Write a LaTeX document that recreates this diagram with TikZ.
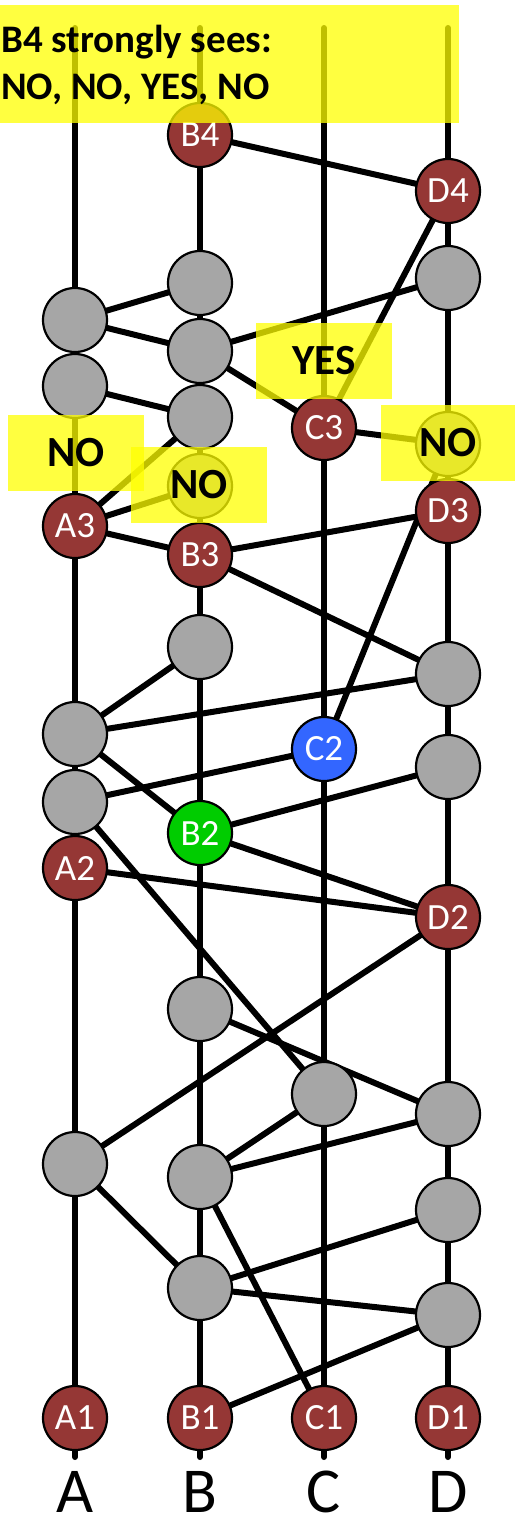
\documentclass[tikz,border=0pt]{standalone}
\usepackage{fontspec}
\setmainfont{Carlito}
\usetikzlibrary{backgrounds}
\definecolor{evred}{HTML}{953735}
\definecolor{evgray}{HTML}{A6A6A6}
\definecolor{evgreen}{HTML}{00CC00}
\definecolor{evblue}{HTML}{3366FF}
\definecolor{hlyellow}{HTML}{FFFF00}
\begin{document}
\begin{tikzpicture}[x=1bp,y=-1bp,
  ev/.style={circle, draw=black, line width=2.2bp, minimum size=64bp, inner sep=0pt,
    font=\fontsize{37bp}{37bp}\selectfont, text=white},
  evr/.style={ev, fill=evred},
  evg/.style={ev, fill=evgray},
  evgreen/.style={ev, fill=evgreen},
  evblue/.style={ev, fill=evblue},
  link/.style={line width=6bp, draw=black},
  timeline/.style={line width=6bp, draw=black, line cap=round},
  hlbox/.style={fill=hlyellow, fill opacity=0.75, text opacity=1, draw=none, inner sep=0pt,
    font=\bfseries\fontsize{43bp}{43bp}\selectfont, text=black},
  colname/.style={font=\fontsize{64bp}{64bp}\selectfont, anchor=base, inner sep=0pt},
  titletext/.style={font=\bfseries\fontsize{39bp}{39bp}\selectfont, anchor=base west, inner sep=0pt}
]
\useasboundingbox (0,0) rectangle (515,1520);

% column end points
\coordinate (Atop) at (75,28);   \coordinate (Abot) at (75,1457);
\coordinate (Btop) at (200,28);  \coordinate (Bbot) at (200,1457);
\coordinate (Ctop) at (324,28);  \coordinate (Cbot) at (324,1457);
\coordinate (Dtop) at (448,28);  \coordinate (Dbot) at (448,1457);

% column A
\node[evg] (a1g) at (75,320) {};
\node[evg] (a2g) at (75,386) {};
\node[evr] (A3) at (75,526) {A3};
\node[evg] (a3g) at (75,734) {};
\node[evg] (a4g) at (75,802) {};
\node[evr] (A2) at (75,868) {A2};
\node[evg] (a5g) at (75,1164) {};
\node[evr] (A1) at (75,1418) {A1};
% column B
\node[evr] (B4) at (200,135) {B4};
\node[evg] (b1g) at (200,283) {};
\node[evg] (b2g) at (200,351) {};
\node[evg] (b3g) at (200,417) {};
\node[evg] (bno) at (200,486) {};
\node[evr] (B3) at (200,555) {B3};
\node[evg] (b4g) at (200,647) {};
\node[evgreen] (B2) at (200,833) {B2};
\node[evg] (b5g) at (200,1009) {};
\node[evg] (b6g) at (200,1177) {};
\node[evg] (b7g) at (200,1288) {};
\node[evr] (B1) at (200,1418) {B1};
% column C
\node[evr] (C3) at (324,428) {C3};
\node[evblue] (C2) at (324,749) {C2};
\node[evg] (c1g) at (324,1094) {};
\node[evr] (C1) at (324,1418) {C1};
% column D
\node[evr] (D4) at (448,191) {D4};
\node[evg] (d1g) at (448,278) {};
\node[evg] (dno) at (448,444) {};
\node[evr] (D3) at (448,511) {D3};
\node[evg] (d2g) at (448,674) {};
\node[evg] (d3g) at (448,767) {};
\node[evr] (D2) at (448,917) {D2};
\node[evg] (d4g) at (448,1114) {};
\node[evg] (d5g) at (448,1210) {};
\node[evg] (d6g) at (448,1315) {};
\node[evr] (D1) at (448,1418) {D1};

\begin{scope}[on background layer]
  \draw[timeline] (Atop) -- (Abot);
  \draw[timeline] (Btop) -- (Bbot);
  \draw[timeline] (Ctop) -- (Cbot);
  \draw[timeline] (Dtop) -- (Dbot);
  \draw[link] (B4.center) -- (D4.center);
  \draw[link] (D4.center) -- (C3.center);
  \draw[link] (a1g.center) -- (b1g.center);
  \draw[link] (a1g.center) -- (b2g.center);
  \draw[link] (b2g.center) -- (d1g.center);
  \draw[link] (b2g.center) -- (C3.center);
  \draw[link] (a2g.center) -- (b3g.center);
  \draw[link] (A3.center) -- (b3g.center);
  \draw[link] (A3.center) -- (bno.center);
  \draw[link] (C3.center) -- (dno.center);
  \draw[link] (A3.center) -- (B3.center);
  \draw[link] (B3.center) -- (D3.center);
  \draw[link] (B3.center) -- (d2g.center);
  \draw[link] (dno.center) -- (C2.center);
  \draw[link] (b4g.center) -- (a3g.center);
  \draw[link] (a3g.center) -- (d2g.center);
  \draw[link] (a3g.center) -- (B2.center);
  \draw[link] (a4g.center) -- (C2.center);
  \draw[link] (B2.center) -- (d3g.center);
  \draw[link] (B2.center) -- (D2.center);
  \draw[link] (A2.center) -- (D2.center);
  \draw[link] (a4g.center) -- (c1g.center);
  \draw[link] (D2.center) -- (a5g.center);
  \draw[link] (b5g.center) -- (d4g.center);
  \draw[link] (c1g.center) -- (b6g.center);
  \draw[link] (b6g.center) -- (d4g.center);
  \draw[link] (a5g.center) -- (b7g.center);
  \draw[link] (b6g.center) -- (C1.center);
  \draw[link] (b7g.center) -- (d5g.center);
  \draw[link] (b7g.center) -- (d6g.center);
  \draw[link] (d6g.center) -- (B1.center);
\end{scope}

% highlights
\node[hlbox, minimum width=459bp, minimum height=118bp, anchor=north west] (hltop) at (0,5) {};
\node[titletext] (title1) at (1,53) {B4 strongly sees:};
\node[titletext] (title2) at (1,100) {NO, NO, YES, NO};
\node[hlbox, minimum width=136bp, minimum height=76bp] (hlyes) at (324,361) {YES};
\node[hlbox, minimum width=136bp, minimum height=76bp] (hlnoa) at (76,453) {NO};
\node[hlbox, minimum width=136bp, minimum height=76bp] (hlnob) at (199,485) {NO};
\node[hlbox, minimum width=134bp, minimum height=76bp] (hlnod) at (448,443) {NO};

% column names
\node[colname] (lA) at (75,1512) {A};
\node[colname] (lB) at (200,1512) {B};
\node[colname] (lC) at (324,1512) {C};
\node[colname] (lD) at (448,1512) {D};
\end{tikzpicture}
\end{document}
